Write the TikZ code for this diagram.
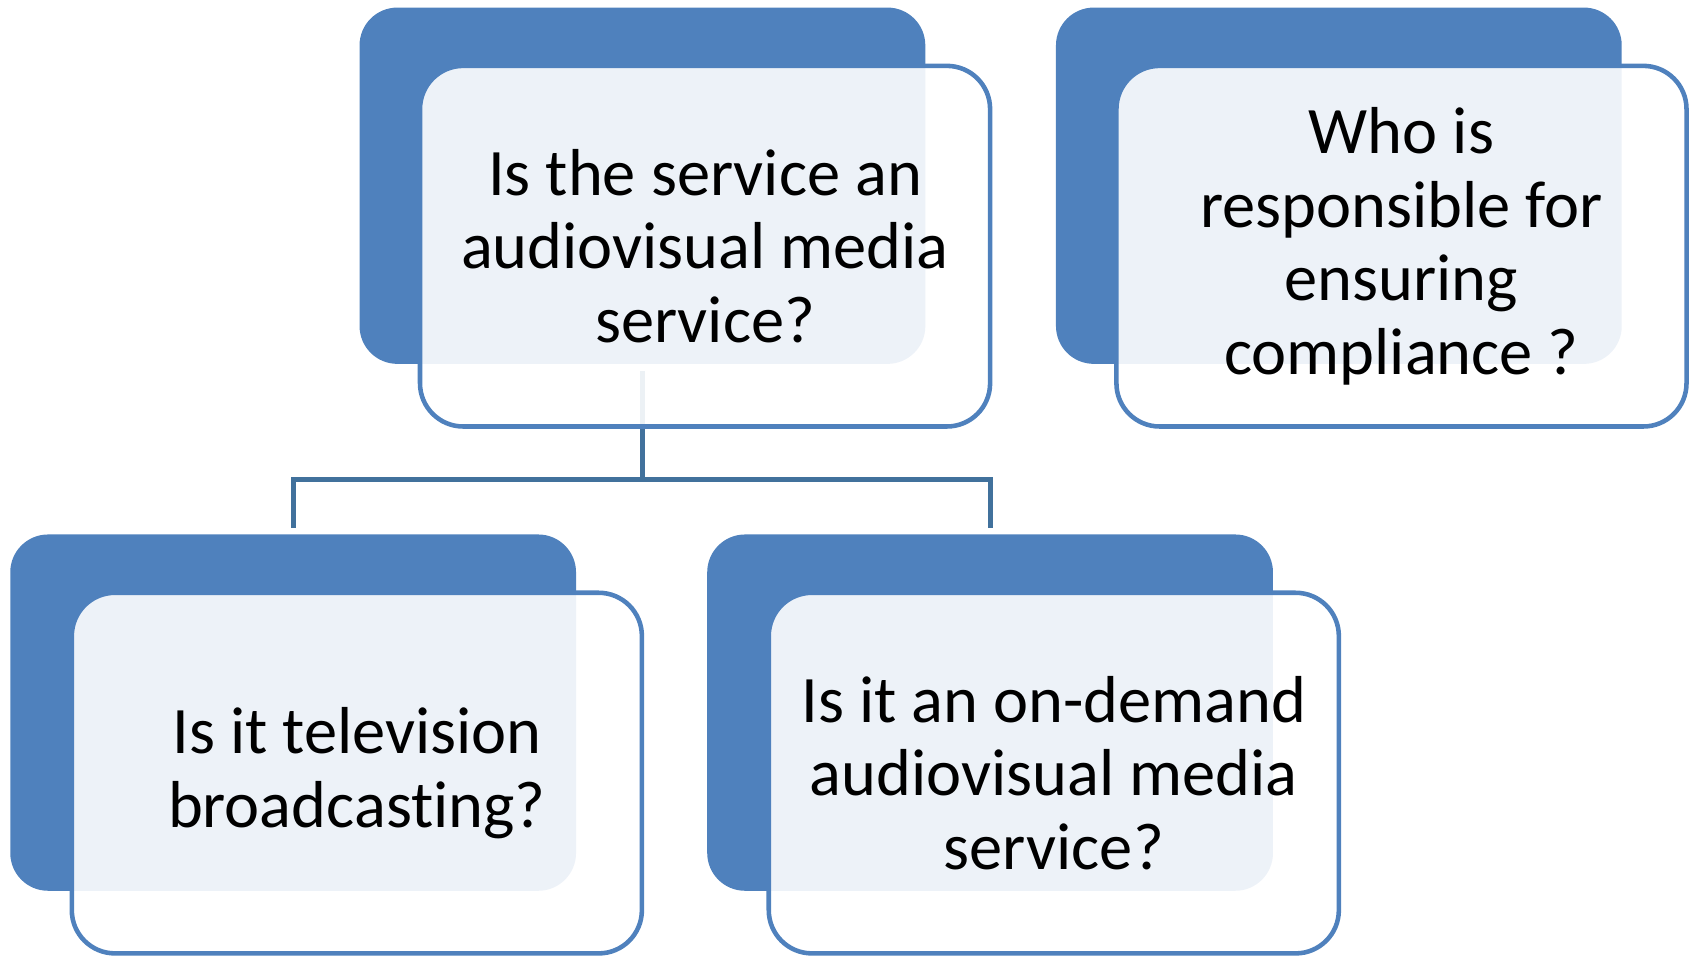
\documentclass[tikz,border=0pt]{standalone}
\usepackage{fontspec}
\setmainfont{Carlito}[Ligatures=NoCommon]
\usepackage{xcolor}
\usetikzlibrary{positioning,calc}
\definecolor{boxblue}{HTML}{4F81BD}
\definecolor{linkblue}{HTML}{41719C}

\begin{document}
\begin{tikzpicture}[x=0.1mm,y=-0.1mm,
    backbox/.style={fill=boxblue, rounded corners=0.35cm, minimum width=5.24cm, minimum height=3.30cm, inner sep=0pt},
    frontbox/.style={draw=boxblue, line width=1.2pt, fill=white, fill opacity=0.9, text opacity=1, rounded corners=0.4cm,
        minimum width=5.28cm, minimum height=3.34cm, inner sep=0pt, align=center, font=\fontsize{17.5}{19.4}\selectfont},
    link/.style={draw=linkblue, line width=1.3pt}]
    \useasboundingbox (0,0) rectangle (1568,885);

    % Back plates
    \node[backbox] (q1back) at (595,172) {};
    \node[backbox] (q4back) at (1240,172) {};
    \node[backbox] (q2back) at (271.5,660) {};
    \node[backbox] (q3back) at (917,660) {};

    % Tree links
    \coordinate (fork) at ($(q1back.south)+(0,106)$);
    \draw[link, shorten <=0.06cm] (q1back.south) -- (fork);
    \draw[link, shorten >=0.05cm] (fork) -| (q2back.north);
    \draw[link, shorten >=0.05cm] (fork) -| (q3back.north);

    % Question boxes
    \node[frontbox] (q1) at ($(q1back)+(58,56)$) {Is the service an\\audiovisual media\\service?};
    \node[frontbox] (q4) at ($(q4back)+(58,56)$) {Who is\\responsible for\\ensuring\\compliance ?};
    \node[frontbox] (q2) at ($(q2back)+(59,56)$) {Is it television\\broadcasting?};
    \node[frontbox] (q3) at ($(q3back)+(59,56)$) {Is it an on-demand\\audiovisual media\\service?};
\end{tikzpicture}
\end{document}
